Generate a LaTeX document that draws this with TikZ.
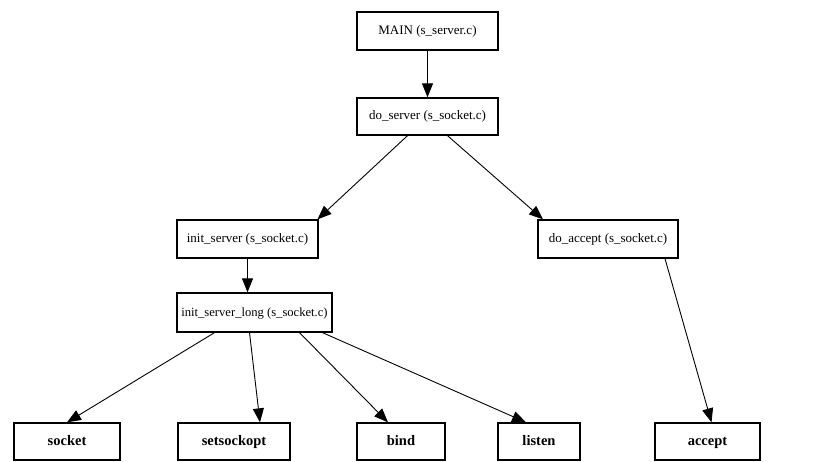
\documentclass[tikz,border=0pt]{standalone}
\usepackage{fontspec}
\setmainfont{Liberation Serif}
\usetikzlibrary{arrows.meta}
\begin{document}
\begin{tikzpicture}[x=1pt,y=-1pt,
  box/.style={draw, rectangle, inner sep=0pt, line width=1.3pt,
    text height=10pt, text depth=3pt,
    font=\fontsize{13}{15}\selectfont},
  leaf/.style={box, font=\fontsize{14.5}{16}\selectfont\bfseries},
  call/.style={line width=0.9pt, -{Triangle[length=14pt,width=11pt]}}]
  \useasboundingbox[fill=white] (0,0) rectangle (813,462);

  % upper call chain
  \node[box, minimum width=141pt, minimum height=38pt] (main)   at (427.5,31)  {MAIN (s\_server.c)};
  \node[box, minimum width=141pt, minimum height=37pt] (dosrv)  at (427.5,116.5) {do\_server (s\_socket.c)};
  \node[box, minimum width=141pt, minimum height=38pt] (initsrv) at (247.5,239) {init\_server (s\_socket.c)};
  \node[box, minimum width=140pt, minimum height=38pt] (doacc)  at (608,239)   {do\_accept (s\_socket.c)};
  \node[box, minimum width=155pt, minimum height=39pt,
        font=\fontsize{12.6}{15}\selectfont] (initlong) at (254.5,312.5) {init\_server\_long (s\_socket.c)};

  % system calls
  \node[leaf, minimum width=106pt, minimum height=37pt] (socket)  at (67,441.5)  {socket};
  \node[leaf, minimum width=112pt, minimum height=37pt] (setsock) at (234,441.5) {setsockopt};
  \node[leaf, minimum width=88pt,  minimum height=37pt] (bind)    at (401,441.5) {bind};
  \node[leaf, minimum width=82pt,  minimum height=37pt] (listen)  at (539,441.5) {listen};
  \node[leaf, minimum width=105pt, minimum height=37pt] (accept)  at (707.5,441.5) {accept};

  % calls
  \draw[call] (main.south) -- (dosrv.north);
  \draw[call] ([xshift=-20pt]dosrv.south) -- ([xshift=70pt]initsrv.north);
  \draw[call] ([xshift=20pt]dosrv.south) -- ([xshift=-65pt]doacc.north);
  \draw[call] (initsrv.south) -- (initsrv.south |- initlong.north);
  \draw[call] ([xshift=57pt]doacc.south) -- ([xshift=4pt]accept.north);
  \draw[call] ([xshift=-40pt]initlong.south) -- (socket.north);
  \draw[call] ([xshift=-5pt]initlong.south) -- ([xshift=26pt]setsock.north);
  \draw[call] ([xshift=45pt]initlong.south) -- ([xshift=-13pt]bind.north);
  \draw[call] ([xshift=68pt]initlong.south) -- ([xshift=-13pt]listen.north);
\end{tikzpicture}
\end{document}
